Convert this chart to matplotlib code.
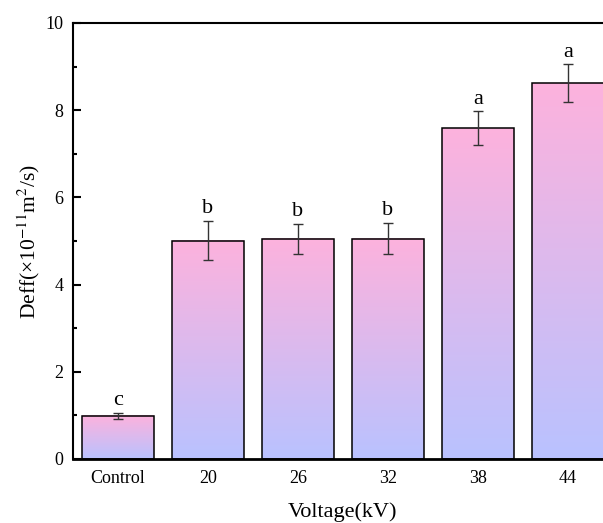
import numpy as np
import matplotlib
matplotlib.use("Agg")
import matplotlib.pyplot as plt
from matplotlib.colors import LinearSegmentedColormap

plt.rcParams['font.family'] = ['Liberation Serif', 'DejaVu Serif']
plt.rcParams['mathtext.fontset'] = 'stix'

# data
groups = ['Control', '20', '26', '32', '38', '44']
deff = [0.99, 5.01, 5.05, 5.05, 7.59, 8.62]
err = [0.07, 0.45, 0.34, 0.36, 0.38, 0.43]
letters = ['c', 'b', 'b', 'b', 'a', 'a']

top_col = '#fdb2dd'
bot_col = '#b9c2ff'
cmap = LinearSegmentedColormap.from_list('pinkblue', [bot_col, top_col])

fig = plt.figure(figsize=(6.03, 5.23), dpi=100)
ax = fig.add_axes([0.121, 0.1224, 0.8955, 0.8337])

x = np.arange(len(groups))
w = 0.8
grad = np.linspace(0, 1, 256).reshape(-1, 1)
for xi, h in zip(x, deff):
    ax.imshow(grad, cmap=cmap, origin='lower', aspect='auto',
              extent=(xi - w / 2, xi + w / 2, 0, h), zorder=1)
ax.bar(x, deff, width=w, fill=False, edgecolor='black', linewidth=1.1, zorder=2)
ax.errorbar(x, deff, yerr=err, fmt='none', ecolor='#333333', elinewidth=1.0,
            capsize=3.3, capthick=1.0, zorder=3)
for xi, h, e, t in zip(x, deff, err, letters):
    ax.text(xi, h + e + 0.06, t, ha='center', va='bottom', fontsize=16)

ax.set_xlim(-0.5, len(groups) - 0.5)
ax.set_ylim(0, 10)
ax.set_xticks(x)
ax.set_xticklabels(groups)
ax.set_yticks(np.arange(0, 11, 2))
ax.set_yticks(np.arange(1, 10, 2), minor=True)
ax.tick_params(axis='x', length=0, labelsize=13, pad=8)
ax.tick_params(axis='y', which='major', length=5.5, width=1.5, labelsize=13,
               direction='in', pad=7)
ax.tick_params(axis='y', which='minor', length=3, width=1.5, direction='in')
for s in ['left', 'top', 'right']:
    ax.spines[s].set_linewidth(1.5)
ax.spines['bottom'].set_linewidth(2.0)

ax.set_xlabel('Voltage(kV)', fontsize=16, labelpad=11)
ax.set_ylabel('Deff(×10$^{-11}$m$^2$/s)', fontsize=15.5, labelpad=2)

fig.savefig('out.png', dpi=100)
